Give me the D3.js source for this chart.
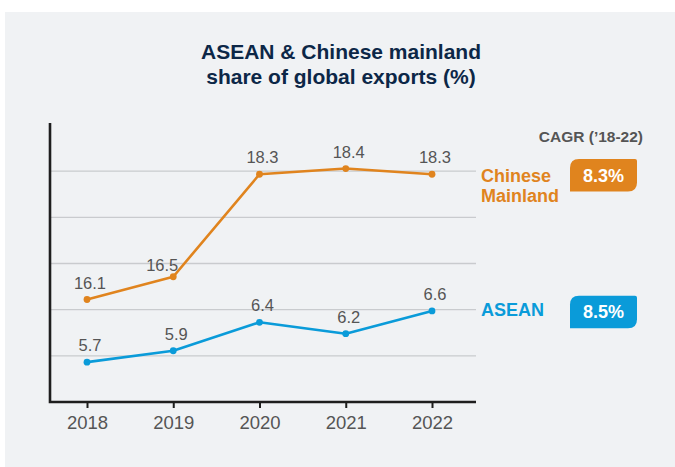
<!DOCTYPE html>
<html>
<head>
<meta charset="utf-8">
<script src="https://cdn.jsdelivr.net/npm/d3@7"></script>
<style>
  html, body { margin: 0; padding: 0; background: #ffffff; }
  svg { display: block; font-family: "Liberation Sans", Arial, Helvetica, sans-serif; }
</style>
</head>
<body>
<svg id="chart" width="675" height="467"></svg>
<script>
// Share of global exports (%), 2018-2022
const years = ["2018", "2019", "2020", "2021", "2022"];
const chinaValues = [16.1, 16.5, 18.3, 18.4, 18.3];
const aseanValues = [5.7, 5.9, 6.4, 6.2, 6.6];
const seriesNames = ["Chinese Mainland", "ASEAN"];
const cagrValues = ["8.3%", "8.5%"];
const titleLines = ["ASEAN & Chinese mainland", "share of global exports (%)"];
const cagrHeading = "CAGR (\u201918-22)";

const svg = d3.select("#chart");
const W = 675, H = 467;

const COLORS = { china: "#E0841E", asean: "#0A9BD9", text: "#555555", title: "#0C2747", grid: "#C9CBCE", axis: "#1E1E1E", bg: "#F0F2F4" };

// Panel background
svg.append("rect").attr("x", 5).attr("y", 12).attr("width", W - 5).attr("height", H - 12)
  .attr("fill", COLORS.bg);

// Plot frame
const plot = { left: 50, right: 476, top: 123, bottom: 402 };

const x = d3.scalePoint().domain(years).range([plot.left + 37, plot.right - 44]);

// Broken value axis: both series share the same units-per-pixel, offset vertically
const yChina = d3.scaleLinear().domain([14.3, 19.2]).range([plot.bottom, plot.top]);
const yAsean = d3.scaleLinear().domain([5.0, 9.9]).range([plot.bottom, plot.top]);

// Evenly spaced guide lines
const yGrid = d3.scaleLinear().domain([0, 6]).range([plot.bottom, plot.top + 2]);
svg.append("g").selectAll("line").data([1, 2, 3, 4, 5]).join("line")
  .attr("x1", plot.left).attr("x2", plot.right)
  .attr("y1", d => yGrid(d)).attr("y2", d => yGrid(d))
  .attr("stroke", COLORS.grid).attr("stroke-width", 1.3);

// Title
svg.append("text").attr("x", 341).attr("y", 59).attr("text-anchor", "middle")
  .attr("font-size", 21).attr("font-weight", "bold").attr("fill", COLORS.title)
  .selectAll("tspan").data(titleLines).join("tspan")
  .attr("x", 341).attr("dy", (d, i) => i === 0 ? 0 : 25).text(d => d);

// X axis
const xAxis = svg.append("g").attr("transform", `translate(0,${plot.bottom})`)
  .call(d3.axisBottom(x).tickSize(6).tickPadding(8));
xAxis.select(".domain").remove();
xAxis.selectAll(".tick line").attr("stroke", COLORS.axis).attr("stroke-width", 2);
xAxis.selectAll(".tick text").attr("font-size", 18.5).attr("fill", COLORS.text)
  .attr("font-family", "Liberation Sans, Arial, sans-serif");

// Axis frame lines
svg.append("path")
  .attr("d", d3.line()([[plot.left, plot.top], [plot.left, plot.bottom], [plot.right, plot.bottom]]))
  .attr("fill", "none").attr("stroke", COLORS.axis).attr("stroke-width", 2.6);

function drawSeries(values, y, color, labelNudge) {
  const pts = values.map((v, i) => ({ year: years[i], v }));
  const g = svg.append("g");
  g.append("path").datum(pts)
    .attr("d", d3.line().x(d => x(d.year)).y(d => y(d.v)))
    .attr("fill", "none").attr("stroke", color).attr("stroke-width", 2.6)
    .attr("stroke-linejoin", "round");
  g.selectAll("circle").data(pts).join("circle")
    .attr("cx", d => x(d.year)).attr("cy", d => y(d.v)).attr("r", 3.4)
    .attr("fill", color);
  g.selectAll("text").data(pts).join("text")
    .attr("x", (d, i) => x(d.year) + 3 + (labelNudge[i] ? labelNudge[i][0] : 0))
    .attr("y", (d, i) => y(d.v) - 11 + (labelNudge[i] ? labelNudge[i][1] : 0))
    .attr("text-anchor", "middle").attr("font-size", 16.5).attr("fill", COLORS.text)
    .text(d => d.v.toFixed(1));
}

drawSeries(chinaValues, yChina, COLORS.china, { 1: [-14, 5] });
drawSeries(aseanValues, yAsean, COLORS.asean, {});

// CAGR heading
svg.append("text").attr("x", 643).attr("y", 142).attr("text-anchor", "end")
  .attr("font-size", 15.5).attr("font-weight", "bold").attr("fill", COLORS.text)
  .text(cagrHeading);

// Badge outline: rounded top-left / bottom-right, near-square other corners
function badgePath(x0, y0, w, h) {
  const r1 = 9, r2 = 2, r3 = 9;
  return `M${x0},${y0 + r1} Q${x0},${y0} ${x0 + r1},${y0}` +
    ` L${x0 + w - r2},${y0} Q${x0 + w},${y0} ${x0 + w},${y0 + r2}` +
    ` L${x0 + w},${y0 + h - r3} Q${x0 + w},${y0 + h} ${x0 + w - r3},${y0 + h}` +
    ` L${x0},${y0 + h} Z`;
}

const legendItems = [
  { name: seriesNames[0], cagr: cagrValues[0], color: COLORS.china, yc: yChina(chinaValues[chinaValues.length - 1]) },
  { name: seriesNames[1], cagr: cagrValues[1], color: COLORS.asean, yc: yAsean(aseanValues[aseanValues.length - 1]) }
];

legendItems.forEach((d, i) => {
  const words = i === 0 ? d.name.split(" ") : [d.name];
  const t = svg.append("text").attr("x", 481)
    .attr("y", i === 0 ? d.yc + 8 : d.yc + 5)
    .attr("font-size", 18).attr("font-weight", "bold").attr("fill", d.color);
  t.selectAll("tspan").data(words).join("tspan")
    .attr("x", 481).attr("dy", (w, j) => j === 0 ? 0 : 19.5).text(w => w);

  const bx = 570, bw = 67, bh = 32.5, by = d.yc + 1 - bh / 2;
  svg.append("path").attr("d", badgePath(bx, by, bw, bh)).attr("fill", d.color);
  svg.append("text").attr("x", bx + bw / 2).attr("y", by + bh / 2 + 6.5)
    .attr("text-anchor", "middle").attr("font-size", 18).attr("font-weight", "bold")
    .attr("fill", "#ffffff").text(d.cagr);
});
</script>
</body>
</html>
